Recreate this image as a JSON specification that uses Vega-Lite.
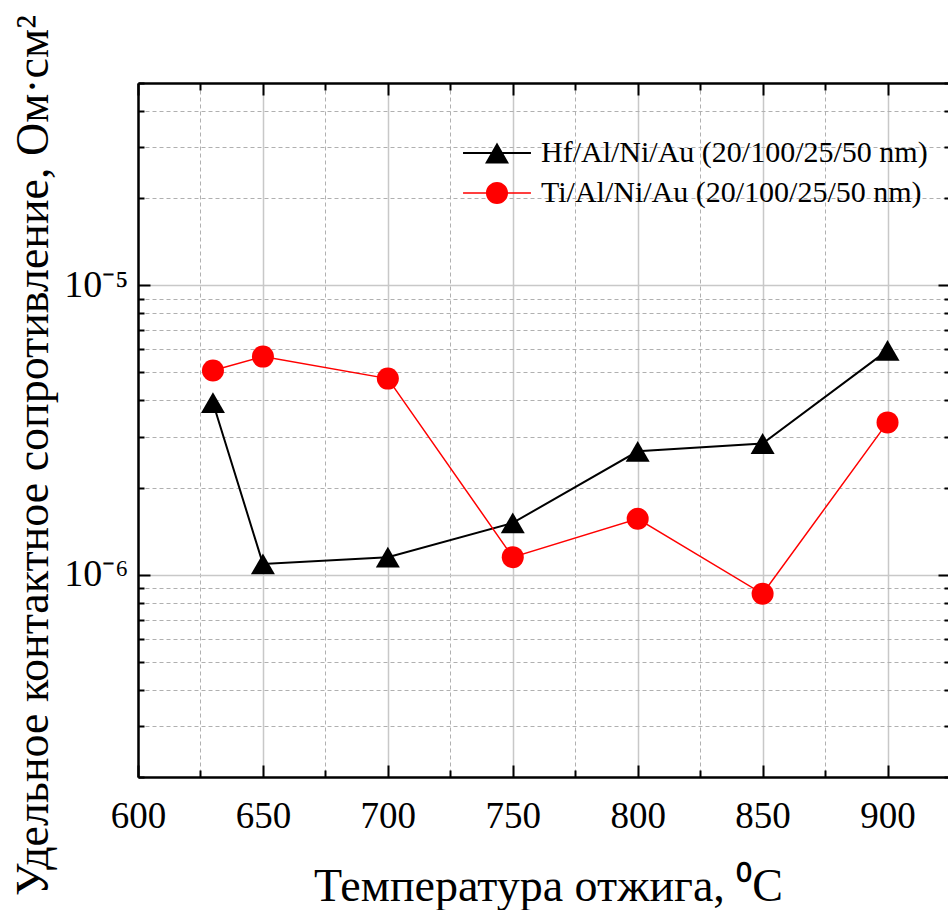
{
  "$schema": "https://vega.github.io/schema/vega-lite/v6.json",
  "width": 812,
  "height": 694,
  "autosize": {"type": "none"},
  "padding": {"left": 138, "top": 83, "right": 0, "bottom": 133},
  "background": "white",
  "config": {"view": {"stroke": null}, "font": "Liberation Serif"},
  "data": {
    "values": [
      {"T": 630, "R": 3.93e-6, "series": "Hf/Al/Ni/Au (20/100/25/50 nm)"},
      {"T": 650, "R": 1.09e-6, "series": "Hf/Al/Ni/Au (20/100/25/50 nm)"},
      {"T": 700, "R": 1.15e-6, "series": "Hf/Al/Ni/Au (20/100/25/50 nm)"},
      {"T": 750, "R": 1.51e-6, "series": "Hf/Al/Ni/Au (20/100/25/50 nm)"},
      {"T": 800, "R": 2.67e-6, "series": "Hf/Al/Ni/Au (20/100/25/50 nm)"},
      {"T": 850, "R": 2.84e-6, "series": "Hf/Al/Ni/Au (20/100/25/50 nm)"},
      {"T": 900, "R": 5.96e-6, "series": "Hf/Al/Ni/Au (20/100/25/50 nm)"},
      {"T": 630, "R": 5.08e-6, "series": "Ti/Al/Ni/Au (20/100/25/50 nm)"},
      {"T": 650, "R": 5.67e-6, "series": "Ti/Al/Ni/Au (20/100/25/50 nm)"},
      {"T": 700, "R": 4.76e-6, "series": "Ti/Al/Ni/Au (20/100/25/50 nm)"},
      {"T": 750, "R": 1.15e-6, "series": "Ti/Al/Ni/Au (20/100/25/50 nm)"},
      {"T": 800, "R": 1.56e-6, "series": "Ti/Al/Ni/Au (20/100/25/50 nm)"},
      {"T": 850, "R": 8.59e-7, "series": "Ti/Al/Ni/Au (20/100/25/50 nm)"},
      {"T": 900, "R": 3.36e-6, "series": "Ti/Al/Ni/Au (20/100/25/50 nm)"}
    ]
  },
  "layer": [
    {
      "transform": [{"filter": "datum.series == 'Hf/Al/Ni/Au (20/100/25/50 nm)'"}],
      "mark": {"type": "line", "color": "black", "strokeWidth": 2},
      "encoding": {
        "x": {
          "field": "T", "type": "quantitative",
          "scale": {"domain": [600, 925], "nice": false, "zero": false},
          "axis": {
            "orient": "bottom",
            "values": [600, 625, 650, 675, 700, 725, 750, 775, 800, 825, 850, 875, 900, 925],
            "labelExpr": "datum.value % 50 == 0 && datum.value <= 900 ? datum.label : ''",
            "labelFlush": false, "labelOverlap": false, "labelFont": "Liberation Serif",
            "labelFontSize": 37, "labelColor": "black", "labelPadding": 50, "labelBaseline": "alphabetic",
            "ticks": false, "domain": false,
            "grid": true,
            "gridColor": {"condition": {"test": "datum.value % 50 == 0", "value": "#c8c8c8"}, "value": "#b0b0b0"},
            "gridDash": {"condition": {"test": "datum.value % 50 == 0", "value": []}, "value": [4, 3]},
            "gridWidth": {"condition": {"test": "datum.value % 50 == 0", "value": 1.5}, "value": 1},
            "title": "Температура отжига, ⁰C",
            "titleFont": "Liberation Serif", "titleFontSize": 46, "titleFontWeight": "normal", "titleColor": "black",
            "titleY": 123, "titleX": 410, "titleBaseline": "alphabetic"
          }
        },
        "y": {
          "field": "R", "type": "quantitative",
          "scale": {"type": "log", "domain": [2e-7, 5e-5], "nice": false},
          "axis": {
            "orient": "left",
            "values": [2e-7, 3e-7, 4e-7, 5e-7, 6e-7, 7e-7, 8e-7, 9e-7, 1e-6, 2e-6, 3e-6, 4e-6, 5e-6, 6e-6, 7e-6, 8e-6, 9e-6, 1e-5, 2e-5, 3e-5, 4e-5, 5e-5],
            "labelExpr": "datum.value > 9.9e-6 && datum.value < 1.01e-5 ? '10⁻⁵' : (datum.value > 9.9e-7 && datum.value < 1.01e-6 ? '10⁻⁶' : '')",
            "labelOverlap": false, "labelFlush": false, "labelFont": "Liberation Serif",
            "labelFontSize": 38, "labelColor": "black", "labelPadding": 10, "labelBaseline": "middle",
            "ticks": false, "domain": false,
            "grid": true,
            "gridColor": {"condition": {"test": "(datum.value > 9.9e-7 && datum.value < 1.01e-6) || (datum.value > 9.9e-6 && datum.value < 1.01e-5)", "value": "#c8c8c8"}, "value": "#b0b0b0"},
            "gridDash": {"condition": {"test": "(datum.value > 9.9e-7 && datum.value < 1.01e-6) || (datum.value > 9.9e-6 && datum.value < 1.01e-5)", "value": []}, "value": [4, 3]},
            "gridWidth": {"condition": {"test": "(datum.value > 9.9e-7 && datum.value < 1.01e-6) || (datum.value > 9.9e-6 && datum.value < 1.01e-5)", "value": 1.5}, "value": 1},
            "title": "Удельное контактное сопротивление, Ом·см²",
            "titleFont": "Liberation Serif", "titleFontSize": 46, "titleFontWeight": "normal", "titleColor": "black",
            "titleX": -91, "titleY": 372, "titleBaseline": "alphabetic"
          }
        }
      }
    },
    {
      "transform": [{"filter": "datum.series == 'Ti/Al/Ni/Au (20/100/25/50 nm)'"}],
      "mark": {"type": "line", "color": "#ff0000", "strokeWidth": 1.5},
      "encoding": {
        "x": {
          "field": "T", "type": "quantitative",
          "scale": {"domain": [600, 925], "nice": false, "zero": false},
          "axis": {
            "orient": "bottom",
            "values": [600, 625, 650, 675, 700, 725, 750, 775, 800, 825, 850, 875, 900, 925],
            "labels": false, "grid": false, "title": null,
            "ticks": true, "tickColor": "black", "tickWidth": 2,
            "tickSize": {"condition": {"test": "datum.value % 50 == 0", "value": -12}, "value": -7},
            "domain": true, "domainColor": "black", "domainWidth": 2.5
          }
        },
        "y": {
          "field": "R", "type": "quantitative",
          "scale": {"type": "log", "domain": [2e-7, 5e-5], "nice": false},
          "axis": {
            "orient": "left",
            "values": [2e-7, 3e-7, 4e-7, 5e-7, 6e-7, 7e-7, 8e-7, 9e-7, 1e-6, 2e-6, 3e-6, 4e-6, 5e-6, 6e-6, 7e-6, 8e-6, 9e-6, 1e-5, 2e-5, 3e-5, 4e-5, 5e-5],
            "labels": false, "grid": false, "title": null,
            "ticks": true, "tickColor": "black", "tickWidth": 2,
            "tickSize": {"condition": {"test": "(datum.value > 9.9e-7 && datum.value < 1.01e-6) || (datum.value > 9.9e-6 && datum.value < 1.01e-5)", "value": -12}, "value": -6},
            "domain": true, "domainColor": "black", "domainWidth": 2.5
          }
        }
      }
    },
    {
      "transform": [{"filter": "datum.series == 'Hf/Al/Ni/Au (20/100/25/50 nm)'"}],
      "mark": {"type": "point", "filled": true, "shape": "triangle-up", "size": 576, "opacity": 1},
      "encoding": {
        "x": {
          "field": "T", "type": "quantitative",
          "scale": {"domain": [600, 925], "nice": false, "zero": false},
          "axis": {
            "orient": "top",
            "values": [600, 625, 650, 675, 700, 725, 750, 775, 800, 825, 850, 875, 900, 925],
            "labels": false, "grid": false, "title": null,
            "ticks": true, "tickColor": "black", "tickWidth": 2,
            "tickSize": {"condition": {"test": "datum.value % 50 == 0", "value": -12}, "value": -7},
            "domain": true, "domainColor": "black", "domainWidth": 2.5
          }
        },
        "y": {
          "field": "R", "type": "quantitative",
          "scale": {"type": "log", "domain": [2e-7, 5e-5], "nice": false},
          "axis": {
            "orient": "right",
            "values": [2e-7, 3e-7, 4e-7, 5e-7, 6e-7, 7e-7, 8e-7, 9e-7, 1e-6, 2e-6, 3e-6, 4e-6, 5e-6, 6e-6, 7e-6, 8e-6, 9e-6, 1e-5, 2e-5, 3e-5, 4e-5, 5e-5],
            "labels": false, "grid": false, "title": null,
            "ticks": true, "tickColor": "black", "tickWidth": 2,
            "tickSize": {"condition": {"test": "(datum.value > 9.9e-7 && datum.value < 1.01e-6) || (datum.value > 9.9e-6 && datum.value < 1.01e-5)", "value": -12}, "value": -6},
            "domain": true, "domainColor": "black", "domainWidth": 2.5
          }
        },
        "color": {
          "field": "series", "type": "nominal",
          "scale": {"domain": ["Hf/Al/Ni/Au (20/100/25/50 nm)"], "range": ["#000000"]},
          "legend": {
            "orient": "none", "legendX": 344, "legendY": 55, "title": null, "padding": 0,
            "labelFont": "Liberation Serif", "labelFontSize": 30, "labelColor": "black", "labelLimit": 0,
            "symbolSize": 576, "labelOffset": 29,
            "symbolType": "M-2.83,-0.083L2.83,-0.083L2.83,0.083L-2.83,0.083ZM0,-0.866L1,0.866L-1,0.866Z",
            "symbolFillColor": "#000000", "symbolStrokeWidth": 0, "symbolOpacity": 1
          }
        }
      }
    },
    {
      "transform": [{"filter": "datum.series == 'Ti/Al/Ni/Au (20/100/25/50 nm)'"}],
      "mark": {"type": "point", "filled": true, "shape": "circle", "size": 484, "opacity": 1},
      "encoding": {
        "x": {"field": "T", "type": "quantitative", "scale": {"domain": [600, 925], "nice": false, "zero": false}, "axis": null},
        "y": {"field": "R", "type": "quantitative", "scale": {"type": "log", "domain": [2e-7, 5e-5], "nice": false}, "axis": null},
        "color": {
          "field": "series", "type": "nominal",
          "scale": {"domain": ["Ti/Al/Ni/Au (20/100/25/50 nm)"], "range": ["#ff0000"]},
          "legend": {
            "orient": "none", "legendX": 344, "legendY": 95, "title": null, "padding": 0,
            "labelFont": "Liberation Serif", "labelFontSize": 30, "labelColor": "black", "labelLimit": 0,
            "symbolSize": 576, "labelOffset": 29,
            "symbolType": "M-2.83,-0.0625L2.83,-0.0625L2.83,0.0625L-2.83,0.0625ZM-0.92,0A0.92,0.92 0 1,1 0.92,0A0.92,0.92 0 1,1 -0.92,0Z",
            "symbolFillColor": "#ff0000", "symbolStrokeWidth": 0, "symbolOpacity": 1
          }
        }
      }
    }
  ],
  "resolve": {
    "axis": {"x": "independent", "y": "independent"},
    "scale": {"color": "independent"},
    "legend": {"color": "independent"}
  }
}
